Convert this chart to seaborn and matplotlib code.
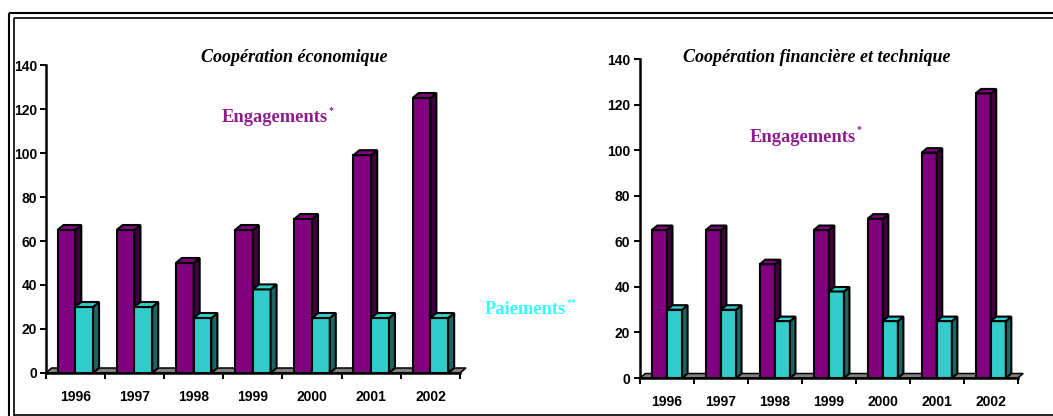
import numpy as np
import pandas as pd
import matplotlib
matplotlib.use("Agg")
import matplotlib.pyplot as plt
from matplotlib.patches import Polygon
from matplotlib.lines import Line2D
import seaborn as sns

# ---- data -------------------------------------------------------------
years = ["1996", "1997", "1998", "1999", "2000", "2001", "2002"]
series = ["Engagements", "Paiements"]

eco_engagements = [65, 65, 50, 65, 70, 99, 125]
eco_paiements = [30, 30, 25, 38, 25, 25, 25]

fin_engagements = [65, 65, 50, 65, 70, 99, 125]
fin_paiements = [30, 30, 25, 38, 25, 25, 25]

panel_titles = ["Coopération économique", "Coopération financière et technique"]
y_ticks = [0, 20, 40, 60, 80, 100, 120, 140]

# ---- style ------------------------------------------------------------
front = {"Engagements": "#800080", "Paiements": "#33CCCC"}
side = {"Engagements": "#400040", "Paiements": "#1A6666"}
label_colors = {"Engagements": "#8E1C8E", "Paiements": "#33FFFF"}

sns.set_style("white")
plt.rcParams["font.family"] = ["Liberation Sans", "DejaVu Sans"]
plt.rcParams.update({
    "text.color": "black",
    "axes.edgecolor": "black",
    "xtick.color": "black",
    "ytick.color": "black",
    "xtick.labelcolor": "black",
    "ytick.labelcolor": "black",
})

W, H = 1053, 416
fig = plt.figure(figsize=(W / 100, H / 100), dpi=100)

EDGE_LW = 1.5


def fx(px):
    return px / W


def fy(px):
    return 1 - px / H


def panel(rect, eng, pai, width, dx_px, dy_px, label_pad):
    ax = fig.add_axes(rect)
    df = pd.DataFrame({
        "Année": years * 2,
        "Série": [series[0]] * len(years) + [series[1]] * len(years),
        "Valeur": list(eng) + list(pai),
    })
    sns.barplot(data=df, x="Année", y="Valeur", hue="Série", hue_order=series,
                palette=front, width=width, saturation=1, edgecolor="black",
                linewidth=EDGE_LW, legend=False, ax=ax)
    ax.set_xlim(-0.5, len(years) - 0.5)
    ax.set_ylim(0, 140)

    # pixel depth of the pseudo-3D extrusion, expressed in data units
    bb = ax.get_window_extent()
    ddx = dx_px * len(years) / bb.width
    ddy = dy_px * 140 / bb.height

    # floor slab
    x0, x1 = -0.5, len(years) - 0.5
    ax.add_patch(Polygon([(x0, 0), (x1, 0), (x1 + ddx, ddy), (x0 + ddx, ddy)],
                         closed=True, facecolor="#808080", edgecolor="black",
                         lw=1.1, zorder=1.5, clip_on=False))

    for i, (name, cont) in enumerate(zip(series, ax.containers)):
        z = 2 + 2 * i
        for bar in cont:
            bar.set_zorder(z)
            bx, bw, bh = bar.get_x(), bar.get_width(), bar.get_height()
            r = bx + bw
            ax.add_patch(Polygon([(r, 0), (r + ddx, ddy), (r + ddx, bh + ddy), (r, bh)],
                                 closed=True, facecolor=side[name], edgecolor="black",
                                 lw=EDGE_LW, zorder=z + 0.1, clip_on=False))
            ax.add_patch(Polygon([(bx, bh), (r, bh), (r + ddx, bh + ddy), (bx + ddx, bh + ddy)],
                                 closed=True, facecolor=front[name], edgecolor="black",
                                 lw=EDGE_LW, zorder=z + 0.1, clip_on=False))

    sns.despine(ax=ax)
    for s in ("left", "bottom"):
        ax.spines[s].set_linewidth(1.8)
        ax.spines[s].set_color("black")
        ax.spines[s].set_zorder(10)
    ax.set_xlabel("")
    ax.set_ylabel("")
    ax.set_yticks(y_ticks)
    ax.set_yticklabels([str(v) for v in y_ticks], fontsize=10, fontweight="bold")
    ax.set_xticks(range(len(years)))
    ax.set_xticklabels(years, fontsize=10, fontweight="bold")
    ax.set_xticks(np.arange(-0.5, len(years), 1.0), minor=True)
    ax.tick_params(axis="x", which="major", bottom=True, length=0, pad=12)
    ax.tick_params(axis="x", which="minor", bottom=True, length=4.5, width=1.4,
                   direction="out", color="black")
    ax.tick_params(axis="y", left=True, length=4.2, width=1.4, direction="out",
                   pad=label_pad, color="black")
    return ax


ax1 = panel([fx(45.7), fy(373), fx(460) - fx(45.7), fy(65) - fy(373)],
            eco_engagements, eco_paiements, 0.6, 6, 5, 2)
ax2 = panel([fx(640), fy(378), fx(1017.7) - fx(640), fy(59.3) - fy(378)],
            fin_engagements, fin_paiements, 0.56, 5.5, 4.5, 3)

# ---- panel titles -----------------------------------------------------
title_font = dict(family=["Liberation Serif", "DejaVu Serif"], fontsize=13,
                  fontweight="bold", fontstyle="italic", ha="center", va="center",
                  color="black")
fig.text(fx(294), fy(58), panel_titles[0], **title_font)
fig.text(fx(817), fy(58), panel_titles[1], **title_font)

# ---- series labels ----------------------------------------------------
serif_bold = dict(family=["Liberation Serif", "DejaVu Serif"], fontsize=13.3,
                  fontweight="bold", ha="left", va="center")


def series_label(x, y, name, marks):
    t = fig.text(fx(x), fy(y), name, color=label_colors[name], **serif_bold)
    a = plt.annotate(marks, xy=(1, 1), xycoords=t, xytext=(0.5, -1),
                     textcoords="offset points", ha="left", va="center",
                     fontsize=7, fontweight="bold", color=label_colors[name],
                     family=["Liberation Serif", "DejaVu Serif"],
                     annotation_clip=False)
    a.set_figure(fig)
    return t


series_label(222, 118, "Engagements", "*")
series_label(750, 137, "Engagements", "*")
series_label(485, 310, "Paiements", "**")

# ---- double frame -----------------------------------------------------
def hline(y, xa, xb, lw):
    fig.add_artist(Line2D([fx(xa), fx(xb)], [fy(y), fy(y)], color="black", lw=lw,
                          transform=fig.transFigure, solid_capstyle="butt"))


def vline(x, ya, yb, lw):
    fig.add_artist(Line2D([fx(x), fx(x)], [fy(ya), fy(yb)], color="black", lw=lw,
                          transform=fig.transFigure, solid_capstyle="butt"))


hline(13.3, 8.5, W, 1.5)
hline(18, 13.5, W, 1.2)
vline(9.3, 12.5, H, 1.5)
vline(14, 17.5, H, 1.2)
hline(414.5, 13.5, W, 1.2)

fig.savefig("out.png", dpi=100)
